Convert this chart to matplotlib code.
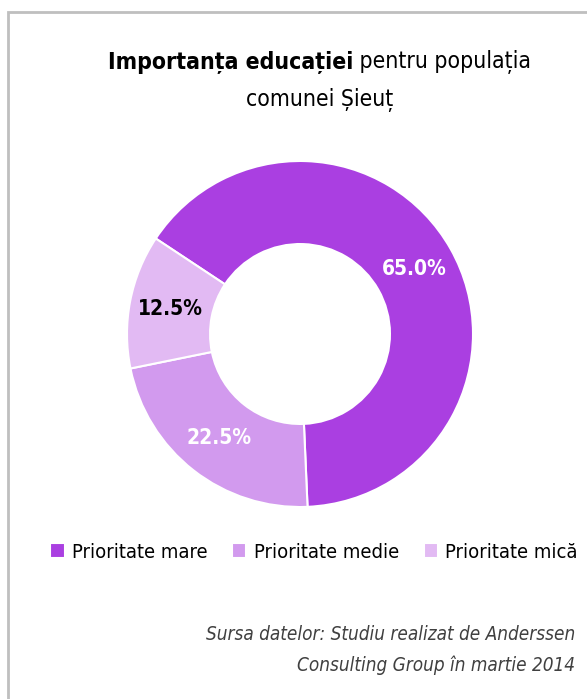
import matplotlib
matplotlib.use('Agg')
from matplotlib import pyplot as plt
from matplotlib.patches import Rectangle

categories = ['Prioritate mare', 'Prioritate medie', 'Prioritate mică']
values = [65.0, 22.5, 12.5]
colors = ['#AA3FE1', '#D29AEE', '#E2BAF3']
label_colors = ['white', 'white', 'black']

plt.rcParams['font.family'] = ['DejaVu Sans']
plt.rcParams['font.stretch'] = 'condensed'

W, H = 587, 699
fig = plt.figure(figsize=(W / 100, H / 100), dpi=100)

# gray frame, right and bottom edges fall outside the picture
fig.patches.append(Rectangle((8 / W, -0.05), 1.1, (H - 12) / H + 0.05,
                             transform=fig.transFigure, fill=False,
                             edgecolor='#BFBFBF', linewidth=2))

# title: bold part + regular part on first line
t1 = fig.text(108 / W, 1 - 62 / H, 'Importanța educației', fontsize=16.5,
              fontweight='bold', ha='left', va='center')
fig.canvas.draw()
bb = t1.get_window_extent()
fig.text(bb.x1 / W, 1 - 62 / H, ' pentru populația', fontsize=16.5,
         ha='left', va='center')
fig.text(320 / W, 1 - 100 / H, 'comunei Șieuț', fontsize=16.5,
         ha='center', va='center')

# donut
cx, cy, r = 300, H - 334, 173
ax = fig.add_axes([(cx - r) / W, (cy - r) / H, 2 * r / W, 2 * r / H])
wedges, texts, autotexts = ax.pie(values, colors=colors, startangle=146.5,
                                  counterclock=False, autopct='%.1f%%',
                                  pctdistance=0.76,
                                  wedgeprops=dict(width=0.48, edgecolor='white', linewidth=1.5),
                                  textprops=dict(fontsize=15, fontweight='bold'))
for t, c in zip(autotexts, label_colors):
    t.set_color(c)
ax.set_xlim(-1, 1)
ax.set_ylim(-1, 1)
ax.set_aspect('equal')

# legend
fig.legend(wedges, categories, loc='center', bbox_to_anchor=(314 / W, 1 - 552 / H),
           ncol=3, frameon=False, fontsize=14.5, handlelength=0.7, handleheight=0.7,
           handletextpad=0.35, columnspacing=1.25)

fig.text(575 / W, 1 - 635 / H, 'Sursa datelor: Studiu realizat de Anderssen',
         fontsize=13.6, style='italic', color='#404040', ha='right', va='center')
fig.text(575 / W, 1 - 665 / H, 'Consulting Group în martie 2014',
         fontsize=13.6, style='italic', color='#404040', ha='right', va='center')

fig.savefig('out.png', dpi=100)
